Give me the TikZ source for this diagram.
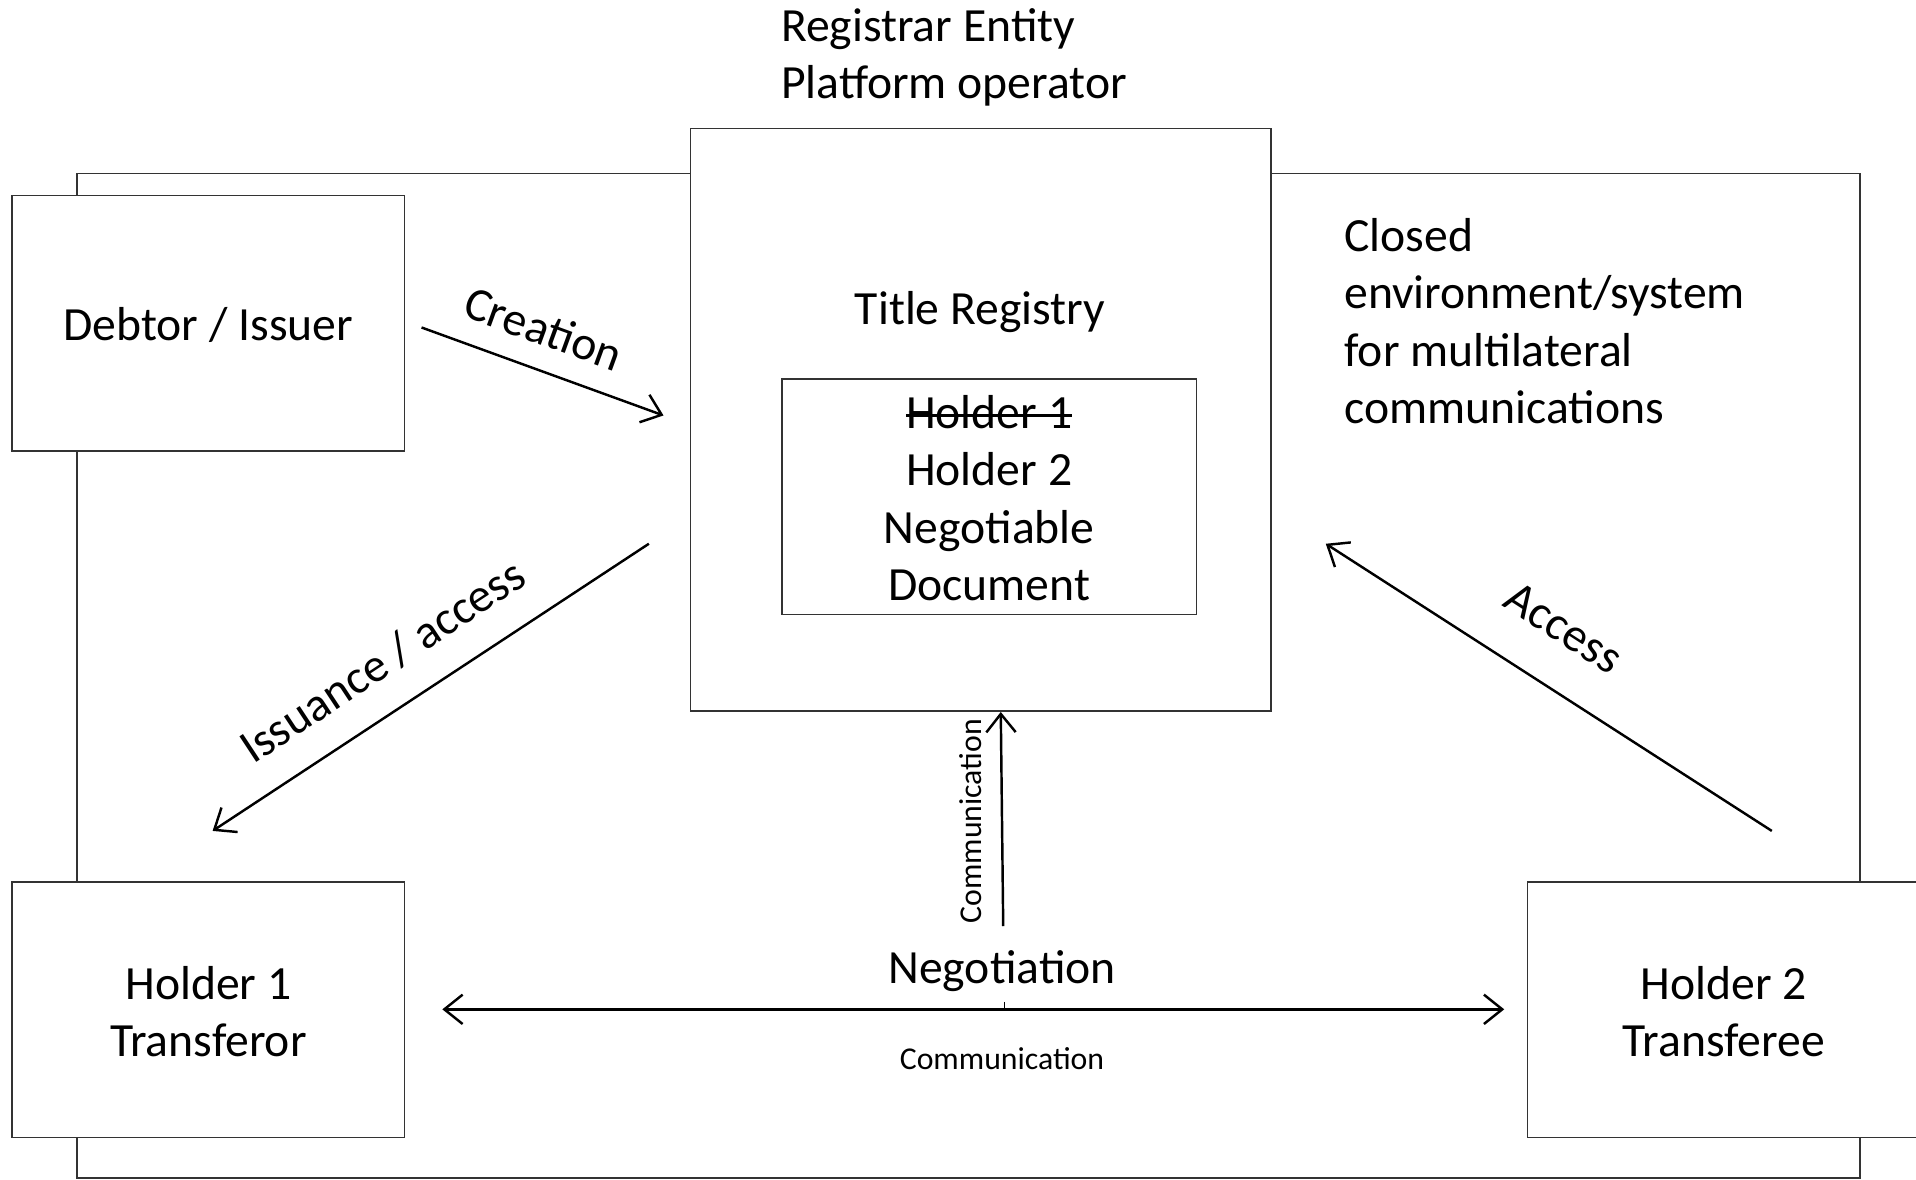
\documentclass[tikz,border=0pt]{standalone}
\usepackage{fontspec}
\setmainfont{Carlito}
\usetikzlibrary{arrows.meta}
\newcommand{\mainsz}{\fontsize{39}{47}\selectfont}
\newcommand{\smallsz}{\fontsize{26}{31}\selectfont}
\begin{document}
\begin{tikzpicture}[x=1pt,y=-1pt,
  boxst/.style={draw=black!80,line width=1.3pt,fill=white,rectangle,inner sep=0pt},
  txt/.style={font=\mainsz,inner sep=0pt,align=center},
  stxt/.style={font=\smallsz,inner sep=0pt,align=center},
  arr/.style={line width=2pt,-{Straight Barb[length=15pt,width=24pt,line width=2pt]}},
  darr/.style={line width=2pt,{Straight Barb[length=15pt,width=24pt,line width=2pt]}-{Straight Barb[length=15pt,width=24pt,line width=2pt]}}]
\useasboundingbox (0,0) rectangle (1568,965);
% outer environment
\node[draw=black!80,line width=1.3pt,rectangle,inner sep=0pt,minimum width=1459pt,minimum height=822pt] (outer) at (792.5,553) {};
% boxes
\node[boxst,minimum width=321pt,minimum height=209pt] (debtor) at (170.5,264.5) {};
\node[txt] (debtortxt) at (170.5,266) {Debtor / Issuer};
\node[boxst,minimum width=321pt,minimum height=209pt] (holder1) at (170.5,826.5) {};
\node[txt] (holder1txt) at (170.5,828) {Holder 1\\Transferor};
\node[boxst,minimum width=321pt,minimum height=209pt] (holder2) at (1410.5,826.5) {};
\node[txt] (holder2txt) at (1410.5,828) {Holder 2\\Transferee};
\node[boxst,minimum width=475pt,minimum height=477pt] (registry) at (802.5,343.5) {};
\node[txt] (regtitle) at (802,255) {Title Registry};
\node[boxst,minimum width=339pt,minimum height=193pt] (inner) at (809.5,406.5) {};
\node[txt,anchor=base] (struck) at (809.5,351) {Holder 1};
\draw[line width=2pt] ([yshift=11pt]struck.base west) -- ([yshift=11pt]struck.base east);
\node[txt] (innertxt) at (809.5,431) {Holder 2\\Negotiable\\Document};
% top labels
\node[txt,align=left,anchor=west] (registrar) at (639,47) {Registrar Entity\\Platform operator};
\node[txt,align=left,anchor=north west] (closed) at (1100,178.5) {Closed\\environment/system\\for multilateral\\communications};
% arrows
\coordinate (crS) at (345,268);
\coordinate (crE) at (543,340);
\draw[arr] (crS) -- (crE);
\node[txt,rotate=-20] (creation) at (445,269) {Creation};
\coordinate (isS) at (531,445);
\coordinate (isE) at (174,680);
\draw[arr] (isS) -- (isE);
\node[txt,rotate=33.4] (issuance) at (313,541) {Issuance / access};
\coordinate (acS) at (1450,680);
\coordinate (acE) at (1085,445);
\draw[arr] (acS) -- (acE);
\node[txt,rotate=-32.8] (access) at (1280,514) {Access};
% communication vertical
\coordinate (cmS) at (821,758);
\draw[arr] (cmS) -- (registry.south -| 819,0);
\node[stxt,rotate=90] (commv) at (794,672) {Communication};
\node[txt] (negot) at (820,795) {Negotiation};
\coordinate (ngL) at (362,826);
\coordinate (ngR) at (1231,826);
\draw[darr] (ngL) -- (ngR);
\coordinate (tickT) at (822,820);
\draw[line width=1.5pt] (tickT) -- (tickT |- ngL);
\node[stxt] (commh) at (820,866) {Communication};
\end{tikzpicture}
\end{document}
